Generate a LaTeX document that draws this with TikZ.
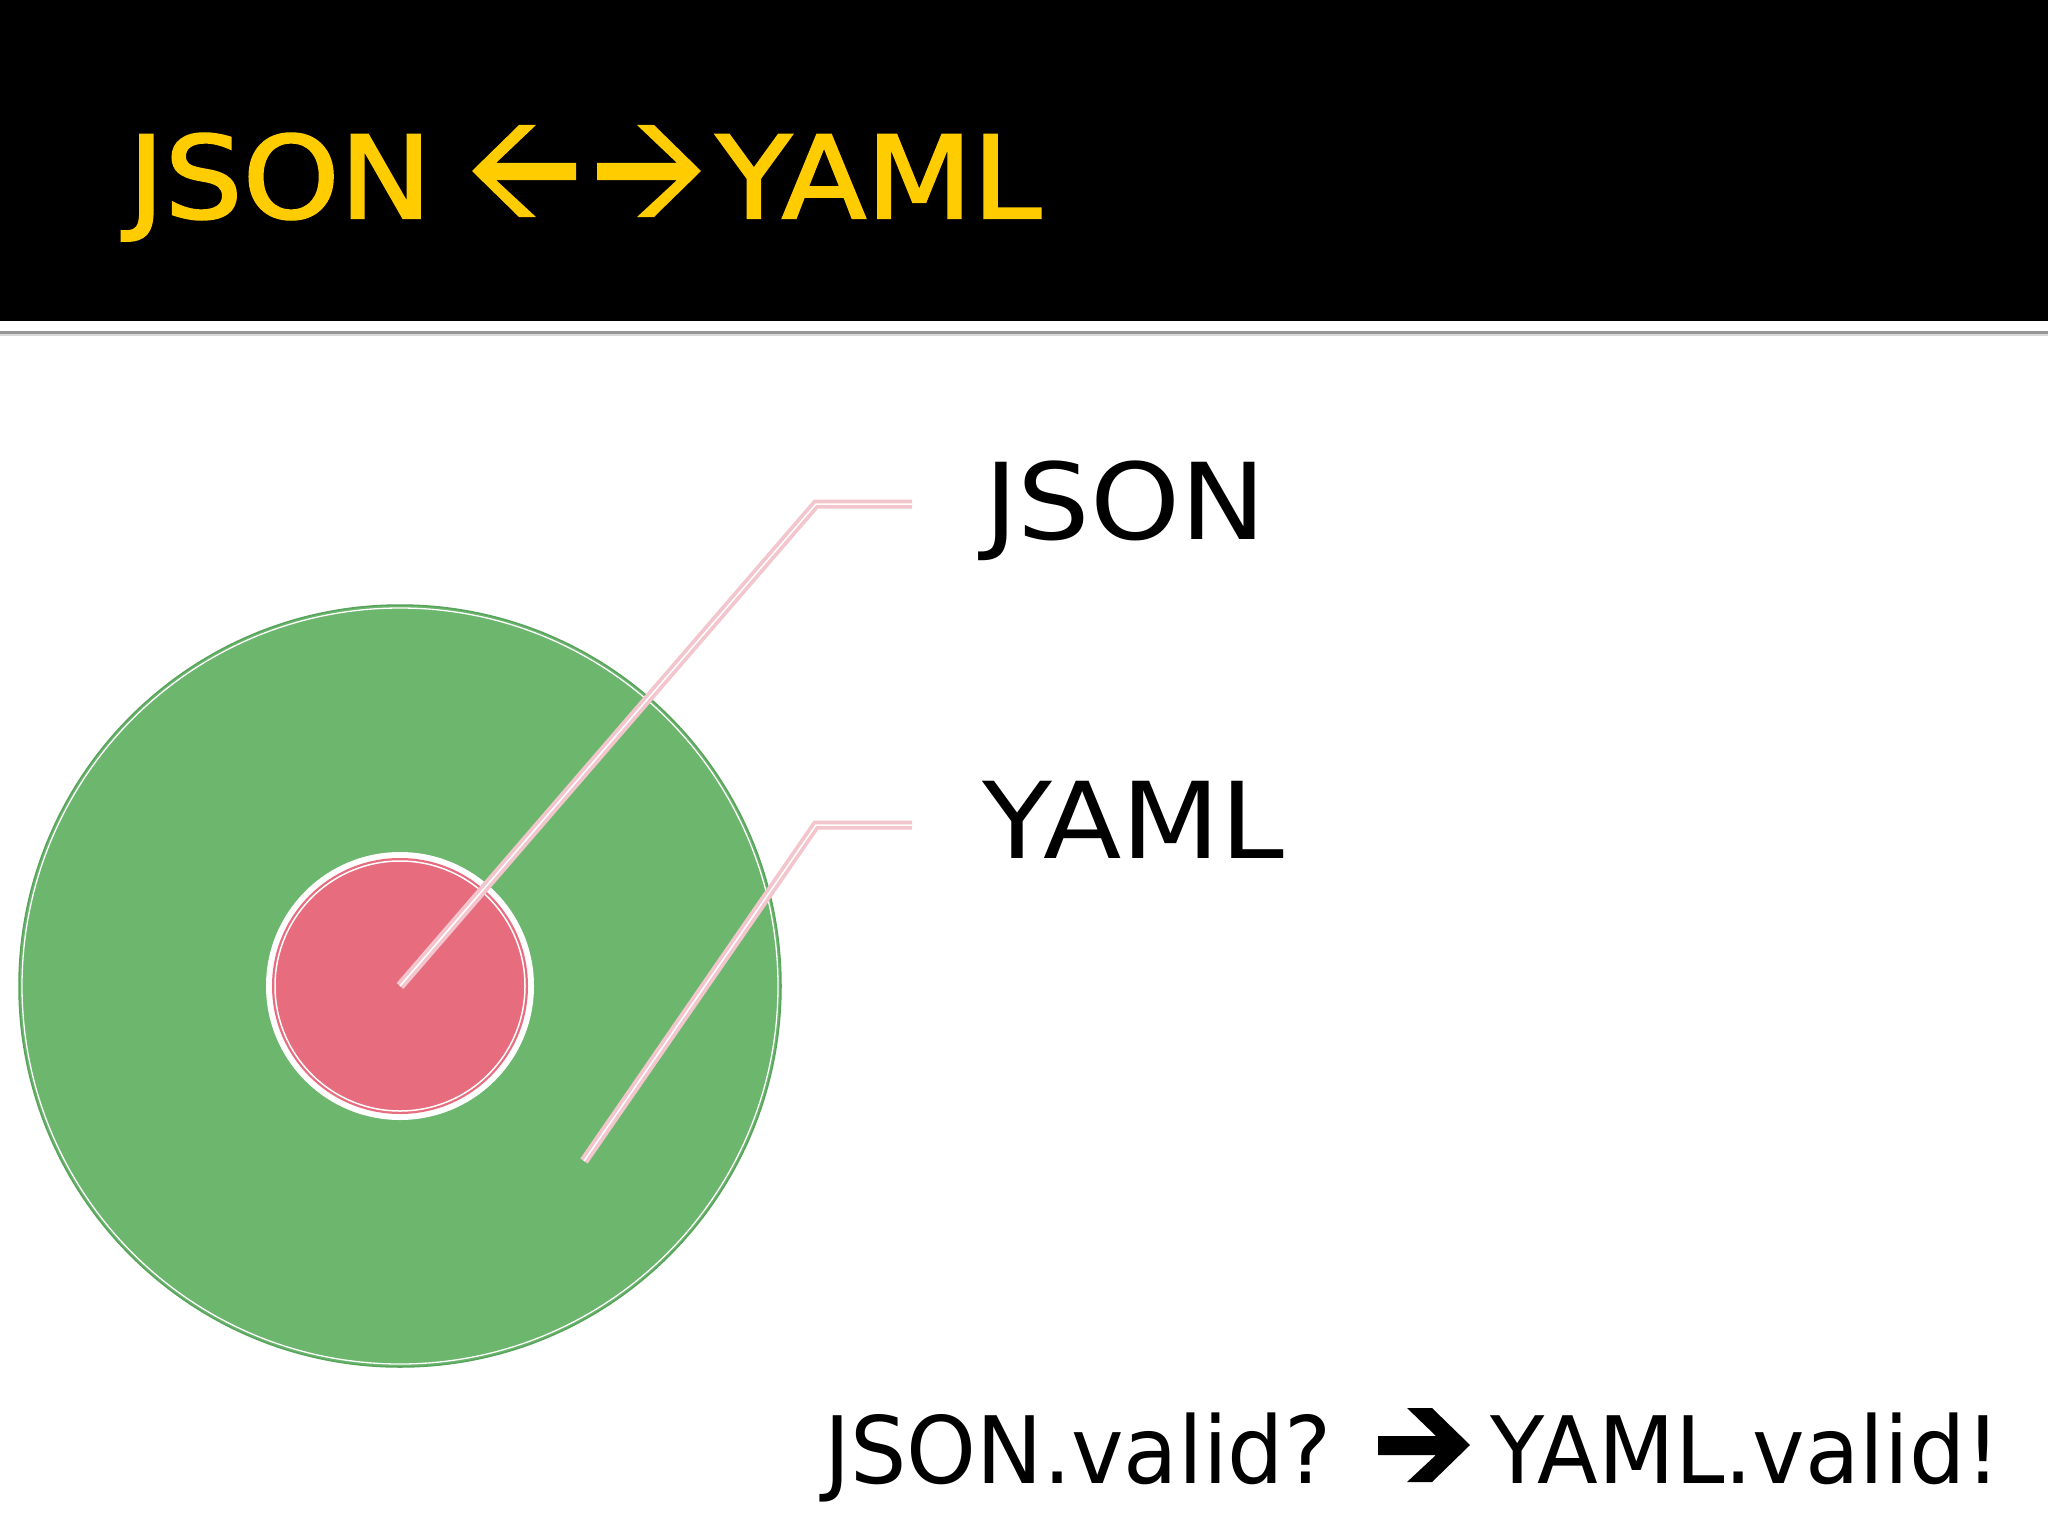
\documentclass[tikz,border=0pt]{standalone}
\usepackage{fontspec}
\setmainfont{DejaVu Sans}
\newfontfamily\widefont[FakeStretch=1.08]{DejaVu Sans}
\newfontfamily\titlefont[FakeStretch=1.08,FakeBold=2]{DejaVu Sans}
\newfontfamily\narrowfont[FakeStretch=0.955]{DejaVu Sans}
\definecolor{titleyellow}{RGB}{255,204,0}
\definecolor{ringgreen}{RGB}{108,182,110}
\definecolor{ringedge}{RGB}{88,164,92}
\definecolor{corered}{RGB}{231,108,126}
\definecolor{leaderpink}{RGB}{242,198,204}
\definecolor{rulegray}{RGB}{150,150,150}
\tikzset{
  titletext/.style={anchor=base west, inner sep=0pt, text=titleyellow, font=\titlefont\fontsize{114}{120}\selectfont},
  labeltext/.style={anchor=base west, inner sep=0pt, text=black, font=\widefont\fontsize{106}{112}\selectfont},
  bottomtext/.style={anchor=base west, inner sep=0pt, text=black, font=\narrowfont\fontsize{93}{100}\selectfont},
  leader/.style={draw=leaderpink, line width=9pt, line join=miter, line cap=butt},
  leaderhi/.style={draw=white, line width=1.5pt, line join=miter, line cap=butt},
}
\begin{document}
\begin{tikzpicture}[x=1pt,y=-1pt]
\useasboundingbox (0,0) rectangle (2048,1536);
\fill[white] (0,0) rectangle (2048,1536);
% title bar
\fill[black] (0,0) rectangle (2048,321);
\draw[rulegray, line width=3pt] (0,332) -- (2048,332);
\draw[gray!30, line width=2pt] (0,335) -- (2048,335);
% title
\node[titletext] (tjson) at (128,218) {JSON};
\node[titletext] (tyaml) at (716,218) {YAML};
\fill[titleyellow] (472,171) -- (519,125) -- (536,125) -- (496,163) -- (576,163) -- (576,180) -- (496,180) -- (536,217) -- (519,217) -- cycle;
\fill[titleyellow] (701,171) -- (654,125) -- (637,125) -- (677,163) -- (597,163) -- (597,180) -- (677,180) -- (637,217) -- (654,217) -- cycle;
% circles
\node[circle, fill=ringgreen, draw=ringedge, line width=1.5pt, minimum size=762pt, inner sep=0pt] (outer) at (400,986) {};
\draw[white, line width=1.3pt] (outer.center) circle[radius=378];
\node[circle, fill=white, minimum size=268pt, inner sep=0pt] (innerring) at (400,986) {};
\node[circle, fill=corered, minimum size=256pt, inner sep=0pt] (inner) at (400,986) {};
\draw[white, line width=1.5pt] (inner.center) circle[radius=125];
% labels
\node[labeltext] (ljson) at (984,539) {JSON};
\node[labeltext] (lyaml) at (982,858) {YAML};
\coordinate (jsonbend) at (816,504);
\coordinate (jsonend) at (912,504);
\coordinate (yamlstart) at (584,1161);
\coordinate (yamlbend) at (816,825);
\coordinate (yamlend) at (912,825);
% leaders
\draw[leader] (inner.center) -- (jsonbend) -- (jsonend);
\draw[leaderhi, shift={(-1.5,-2.5)}] (inner.center) -- (jsonbend) -- (jsonend);
\draw[leader] (yamlstart) -- (yamlbend) -- (yamlend);
\draw[leaderhi, shift={(-1.5,-2.5)}] (yamlstart) -- (yamlbend) -- (yamlend);
% bottom line
\node[bottomtext] (bjson) at (824,1483) {JSON.valid?};
\node[bottomtext] (byaml) at (1490,1483) {YAML.valid!};
\fill[black] (1378,1436) -- (1436,1436) -- (1407,1408) -- (1432,1408) -- (1470,1445) -- (1432,1482) -- (1407,1482) -- (1436,1455) -- (1378,1455) -- cycle;
\end{tikzpicture}
\end{document}
